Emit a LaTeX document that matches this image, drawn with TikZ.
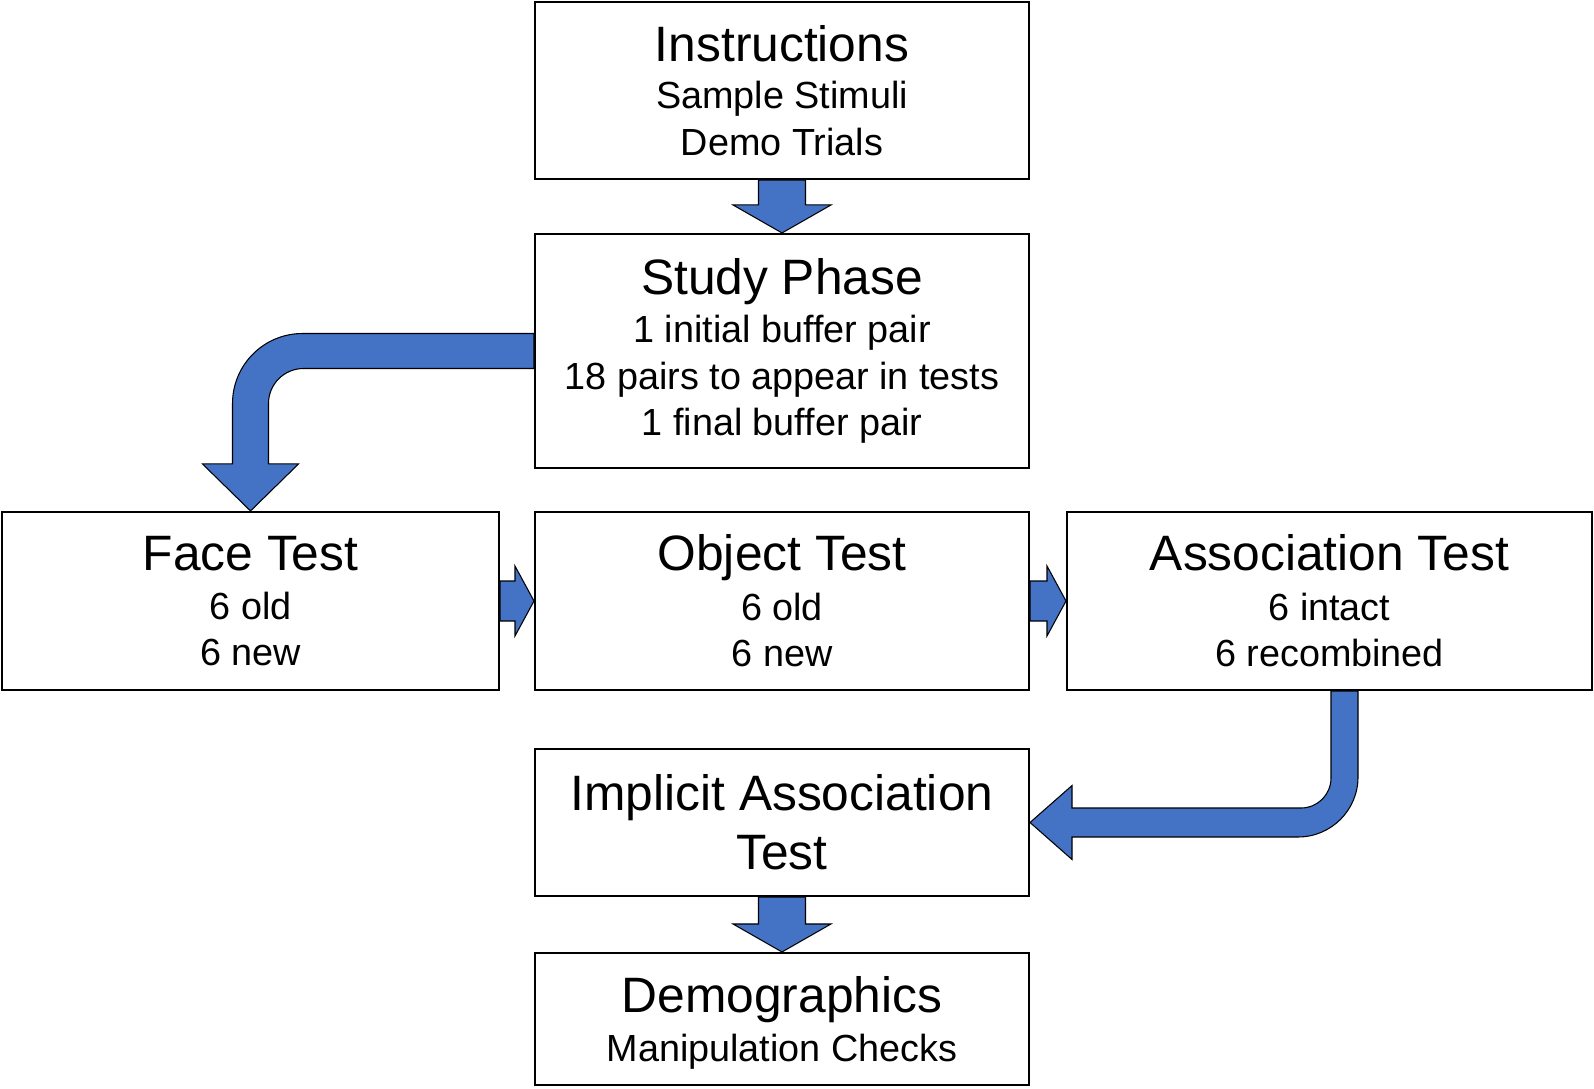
\documentclass[tikz,border=0pt]{standalone}
\usepackage{fontspec}
\setmainfont{Liberation Sans}
\usepackage{tikz}
\usetikzlibrary{calc}
\definecolor{arrowblue}{HTML}{4472C4}
\newcommand{\ttl}{\fontsize{28.3}{33.4}\selectfont}

\begin{document}
\begin{tikzpicture}[x=0.02cm, y=-0.02cm,
        box/.style={draw, very thick, fill=white, align=center, inner sep=0pt,
            font=\fontsize{21.5}{26.5}\selectfont},
        blockarrow/.style={fill=arrowblue, draw=black, line width=0.6pt, line join=miter}]
    \useasboundingbox (0,0) rectangle (1594,1088);

    % boxes
    \node[box, minimum width=9.88cm, minimum height=3.54cm] (instr) at (782,90.5)
        {{\ttl Instructions}\\[0.5pt] Sample Stimuli\\ Demo Trials};
    \node[box, minimum width=9.88cm, minimum height=4.68cm] (study) at (782,351)
        {{\ttl Study Phase}\\[1pt] 1 initial buffer pair\\ 18 pairs to appear in tests\\ 1 final buffer pair};
    \node[box, minimum width=9.94cm, minimum height=3.56cm] (face) at (250.5,601)
        {{\ttl Face Test}\\[1.5pt] 6 old\\ 6 new};
    \node[box, minimum width=9.88cm, minimum height=3.56cm] (object) at (782,601)
        {{\ttl Object Test}\\[1.5pt] 6 old\\ 6 new};
    \node[box, minimum width=10.5cm, minimum height=3.56cm] (assoc) at (1329.5,601)
        {{\ttl Association Test}\\[1.5pt] 6 intact\\ 6 recombined};
    \node[box, minimum width=9.88cm, minimum height=2.94cm, font=\ttl] (iat) at (782,822.5)
        {Implicit Association\\ Test};
    \node[box, minimum width=9.88cm, minimum height=2.64cm] (demo) at (782,1019)
        {{\ttl\rule{0pt}{25pt}Demographics}\\[1pt] Manipulation Checks};

    % straight block arrows
    \foreach \a/\b in {instr/study, iat/demo}{
        \draw[blockarrow] ($(\a.south)+(-23.5,0)$) -- ($(\b.north)+(-23.5,-28)$)
            -- ($(\b.north)+(-49,-28)$) -- (\b.north) -- ($(\b.north)+(49,-28)$)
            -- ($(\b.north)+(23.5,-28)$) -- ($(\a.south)+(23.5,0)$) -- cycle;
    }
    \foreach \a/\b in {face/object, object/assoc}{
        \draw[blockarrow] ($(\a.east)+(0,-20)$) -- ($(\b.west)+(-19,-20)$)
            -- ($(\b.west)+(-19,-35)$) -- (\b.west) -- ($(\b.west)+(-19,35)$)
            -- ($(\b.west)+(-19,20)$) -- ($(\a.east)+(0,20)$) -- cycle;
    }

    % bent block arrows
    \draw[blockarrow] ($(study.west)+(0,-17.5)$) -- ($(face.north |- study.west)+(52,-17.5)$)
        arc[start angle=90, end angle=180, radius=1.4cm]
        -- ($(face.north)+(-18,-47)$) -- ($(face.north)+(-48,-47)$) -- (face.north)
        -- ($(face.north)+(48,-47)$) -- ($(face.north)+(18,-47)$)
        -- ($(face.north |- study.west)+(18,52.5)$)
        arc[start angle=180, end angle=90, radius=0.7cm]
        -- ($(study.west)+(0,17.5)$) -- cycle;
    \draw[blockarrow] ($(assoc.south)+(28.5,0)$) -- ($(assoc.south |- iat.east)+(28.5,-45.5)$)
        arc[start angle=0, end angle=-90, radius=1.2cm]
        -- ($(iat.east)+(42,14.5)$) -- ($(iat.east)+(42,37)$) -- (iat.east)
        -- ($(iat.east)+(42,-37)$) -- ($(iat.east)+(42,-14.5)$)
        -- ($(assoc.south |- iat.east)+(-28.5,-14.5)$)
        arc[start angle=270, end angle=360, radius=0.6cm]
        -- ($(assoc.south)+(1.5,0)$) -- cycle;
\end{tikzpicture}
\end{document}
